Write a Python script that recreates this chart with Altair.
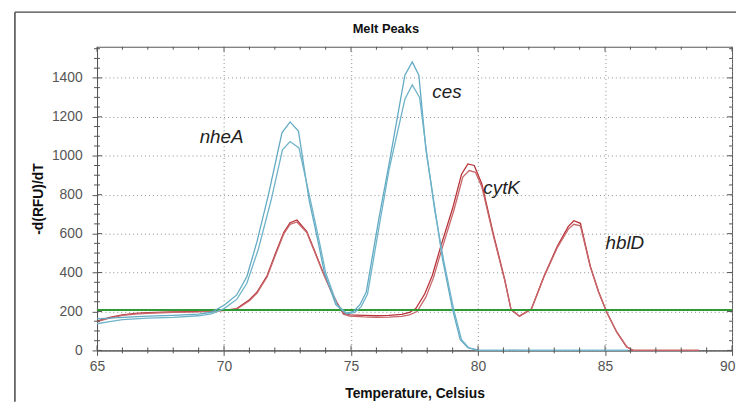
import altair as alt
import pandas as pd

# ---- curve data (temperature in Celsius, -d(RFU)/dT) ----
b1_t = [65, 65.5, 66, 67, 68, 69, 69.5, 70, 70.5, 70.9, 71.3, 71.75, 72.28, 72.6, 72.93, 73.35, 73.7, 73.95,
        74.4, 74.8, 75.1, 75.35, 75.6, 76.1, 76.5, 77.12, 77.41, 77.67, 77.95, 78.3, 78.6, 79.0, 79.3, 79.6,
        80.0, 82.0, 84.0, 85.9]
b1_v = [162, 166, 170, 176, 180, 186, 196, 232, 285, 380, 560, 800, 1118, 1174, 1127, 772, 560, 400,
        235, 190, 200, 235, 300, 680, 960, 1414, 1482, 1414, 1030, 730, 470, 210, 55, 14,
        2, 0, 0, 0]

b2_t = [65, 65.5, 66, 67, 68, 69, 69.5, 70, 70.5, 70.9, 71.35, 71.85, 72.3, 72.6, 72.95, 73.4, 73.75, 74.0,
        74.45, 74.85, 75.15, 75.4, 75.65, 76.15, 76.5, 77.12, 77.41, 77.7, 78.0, 78.3, 78.65, 79.05, 79.35,
        79.65, 80.0, 82.0, 84.0, 85.9]
b2_v = [137, 148, 158, 166, 170, 178, 188, 215, 262, 345, 520, 770, 1030, 1073, 1040, 772, 560, 400,
        235, 188, 195, 225, 290, 670, 930, 1290, 1364, 1300, 990, 715, 460, 205, 55,
        12, 1, 0, 0, 0]

r1_t = [65, 65.5, 66, 66.5, 67, 68, 69, 70, 70.5, 71.0, 71.3, 71.7, 72.0, 72.35, 72.6, 72.87, 73.26, 73.6,
        73.9, 74.2, 74.45, 74.7, 74.95, 75.5, 76.0, 76.5, 77.0, 77.3, 77.55, 77.9, 78.2, 78.5, 79.0, 79.35,
        79.6, 79.85, 80.15, 80.6, 81.05, 81.3, 81.63, 82.1, 82.6, 83.12, 83.55, 83.77, 84.03, 84.42, 84.75,
        85.07, 85.46, 85.85, 86.1, 87.0, 88.7]
r1_v = [150, 170, 183, 190, 194, 198, 200, 206, 215, 260, 300, 385, 490, 605, 656, 670, 611, 500,
        400, 310, 245, 190, 183, 180, 178, 180, 185, 195, 215, 290, 385, 520, 730, 905,
        958, 950, 855, 600, 365, 210, 176, 213, 382, 535, 636, 666, 653, 433, 300,
        196, 95, 19, 0, 0, 0]

r2_t = [65, 65.5, 66, 66.5, 67, 68, 69, 70, 70.5, 71.0, 71.3, 71.7, 72.0, 72.35, 72.6, 72.87, 73.26, 73.6,
        73.9, 74.2, 74.45, 74.7, 74.95, 75.5, 76.0, 76.5, 77.0, 77.3, 77.6, 77.95, 78.25, 78.55, 79.05, 79.4,
        79.65, 79.9, 80.15, 80.6, 81.05, 81.3, 81.63, 82.1, 82.6, 83.12, 83.55, 83.77, 84.03, 84.42, 84.75,
        85.07, 85.46, 85.85, 86.1, 87.0, 88.7]
r2_v = [148, 166, 180, 187, 191, 196, 198, 204, 212, 255, 295, 378, 482, 598, 648, 660, 605, 495,
        398, 308, 243, 186, 176, 172, 170, 171, 175, 183, 200, 275, 375, 510, 720, 890,
        924, 915, 840, 590, 360, 210, 176, 212, 378, 528, 622, 648, 640, 428, 298,
        195, 94, 18, 0, 0, 0]

series_names = ["blue1", "blue2", "red1", "red2"]
series_colors = ["#62aac3", "#6fb3c9", "#b83238", "#c7676b"]

label_names = ["nheA", "ces", "cytK", "hblD"]
label_t = [69.04, 78.2, 80.21, 85.02]
label_v = [1067, 1296, 806, 521]

chart_title = ["Melt Peaks"]

threshold_v = [208]

x_major = [65, 70, 75, 80, 85, 90]
x_minor = [t for t in range(66, 90) if t % 5 != 0]
y_major = [0, 200, 400, 600, 800, 1000, 1200, 1400]
y_minor = [v for v in range(50, 1600, 50) if v % 200 != 0]

W, H = 642, 307
FONT = "Liberation Sans"

rows = []
for name, ts, vs in [("blue1", b1_t, b1_v), ("blue2", b2_t, b2_v), ("red1", r1_t, r1_v), ("red2", r2_t, r2_v)]:
    for t, v in zip(ts, vs):
        rows.append({"series": name, "t": t, "v": v})
curves = pd.DataFrame(rows)

xs = alt.Scale(domain=[65, 90], nice=False, zero=False)
ys = alt.Scale(domain=[0, 1560], nice=False, zero=True)

x_axis = alt.Axis(values=x_major, title="Temperature, Celsius", format="d", grid=True,
                  gridDash=[1, 3], gridColor="#8a8a8a", gridWidth=1, tickSize=5, tickColor="#555",
                  domainColor="#555", labelPadding=4, labelFontSize=14, labelColor="#555",
                  labelFont=FONT, titleFont=FONT, titleFontSize=14, titleFontWeight="bold",
                  titleColor="#111", titlePadding=14, labelFlush=False,
                  labelAlign={"expr": "datum.value == 90 ? 'right' : 'center'"},
                  labelOffset={"expr": "datum.value == 90 ? 3 : 0"})
y_axis = alt.Axis(values=y_major, title="-d(RFU)/dT", format="d", grid=True,
                  gridDash=[1, 3], gridColor="#8a8a8a", gridWidth=1, tickSize=5, tickColor="#555",
                  domainColor="#555", labelPadding=10, labelFontSize=14, labelColor="#555",
                  labelFont=FONT, titleFont=FONT, titleFontSize=14, titleFontWeight="bold",
                  titleColor="#111", titlePadding=6, labelFlush=False)

X = lambda: alt.X("t:Q", scale=xs, axis=x_axis)
Y = lambda: alt.Y("v:Q", scale=ys, axis=y_axis)

color = alt.Color("series:N", scale=alt.Scale(domain=series_names, range=series_colors), legend=None)

red_layer = alt.Chart(curves[curves.series.str.startswith("red")]).mark_line(strokeWidth=1.3).encode(
    x=X(), y=Y(), color=color, detail="series:N")
blue_layer = alt.Chart(curves[curves.series.str.startswith("blue")]).mark_line(strokeWidth=1.3).encode(
    x=X(), y=Y(), color=color, detail="series:N")

thr = alt.Chart(pd.DataFrame({"v": threshold_v})).mark_rule(color="#2e9a34", strokeWidth=2).encode(y=Y())

labels = alt.Chart(pd.DataFrame({"name": label_names, "t": label_t, "v": label_v})).mark_text(
    align="left", baseline="alphabetic", fontStyle="italic", fontSize=19, font=FONT, color="#222").encode(
    x=X(), y=Y(), text="name:N")

title_mark = alt.Chart(pd.DataFrame({"txt": chart_title})).mark_text(
    align="center", baseline="alphabetic", fontSize=13, fontWeight="bold", font=FONT, color="#111").encode(
    x=alt.value(W / 2 - 29), y=alt.value(-14), text="txt:N")


def xticks(vals, y0, y1):
    return alt.Chart(pd.DataFrame({"t": vals})).mark_rule(color="#555", strokeWidth=1).encode(
        x=X(), y=alt.value(y0), y2=alt.value(y1))


def yticks(vals, x0, x1):
    return alt.Chart(pd.DataFrame({"v": vals})).mark_rule(color="#555", strokeWidth=1).encode(
        y=Y(), x=alt.value(x0), x2=alt.value(x1))


ticks = [
    xticks(x_major, H - 5, H), xticks(x_minor, H - 3, H + 3),
    xticks(x_major, 0, 5), xticks(x_minor, 0, 3),
    yticks(y_major, 0, 5), yticks(y_minor, -3, 3),
    yticks(y_major, W - 5, W), yticks(y_minor, W - 3, W),
]

one = pd.DataFrame({"a": [0]})
frame_v = alt.Chart(one).mark_rule(color="#444", strokeWidth=1.5).encode(
    x=alt.value(-83), y=alt.value(-35), y2=alt.value(H + 52))
frame_h = alt.Chart(one).mark_rule(color="#444", strokeWidth=1.5).encode(
    y=alt.value(-35), x=alt.value(-83), x2=alt.value(W + 4))

chart = alt.layer(red_layer, thr, blue_layer, labels, title_mark, *ticks, frame_v, frame_h).properties(
    width=W, height=H,
    autosize=alt.AutoSizeParams(type="none"),
    padding={"left": 90, "top": 37, "right": 4, "bottom": 52},
).configure_view(stroke="#555", strokeWidth=1)

chart.save("out.html", embed_options={"renderer": "svg", "actions": False})
